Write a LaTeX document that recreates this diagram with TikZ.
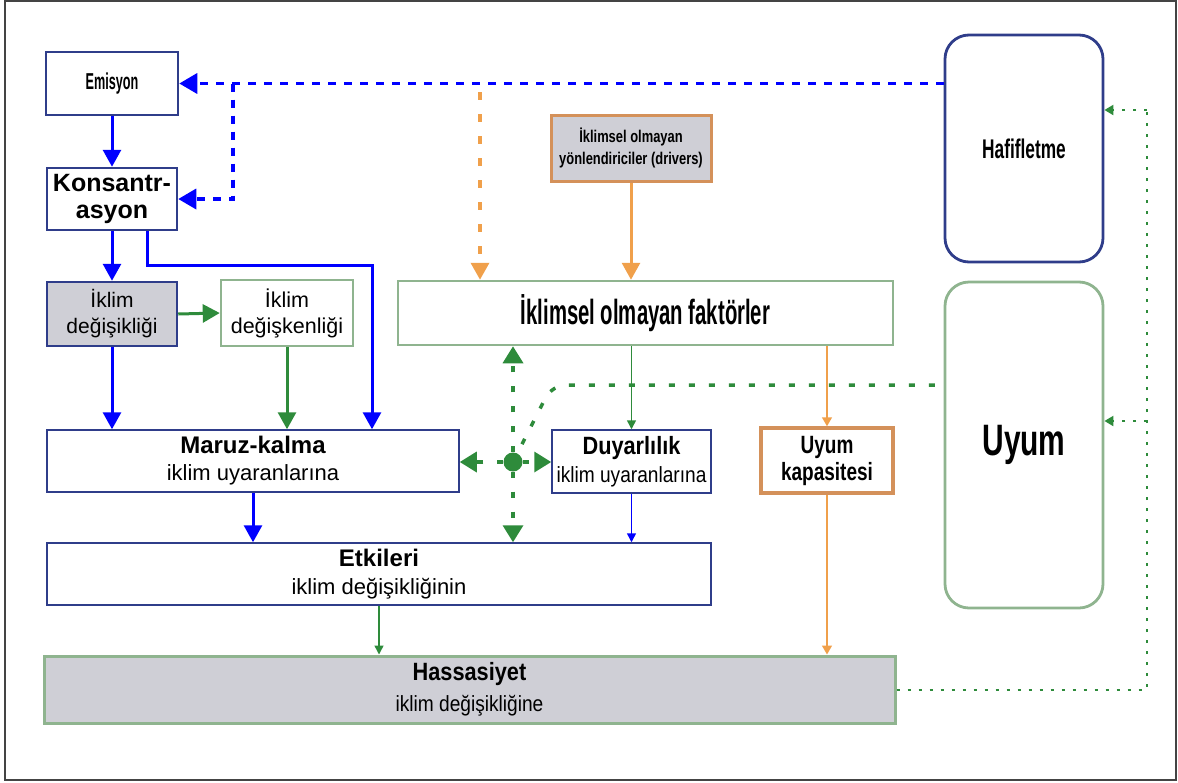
\documentclass[tikz,border=0pt]{standalone}
\usepackage{fontspec}
\setmainfont{Liberation Sans}
\newfontfamily\fA[FakeStretch=0.64]{Liberation Sans}
\newfontfamily\fB[FakeStretch=0.76]{Liberation Sans}
\newfontfamily\fC[FakeStretch=0.87]{Liberation Sans}
\newfontfamily\fD[FakeStretch=0.55]{Liberation Sans}
\newfontfamily\fE[FakeStretch=0.58]{Liberation Sans}
\newfontfamily\fF[FakeStretch=0.68]{Liberation Sans}
\usetikzlibrary{arrows.meta}
\newcommand\fsz[2]{\fontsize{#1}{#2}\selectfont}
\definecolor{navy}{HTML}{2F3D8A}
\definecolor{pblue}{HTML}{0000FF}
\definecolor{leaf}{HTML}{2E8B3B}
\definecolor{sage}{HTML}{8FB48F}
\definecolor{amber}{HTML}{F0A04B}
\definecolor{ochre}{HTML}{D4915A}
\definecolor{mist}{HTML}{CFCFD6}
\definecolor{framegray}{HTML}{444444}

\tikzset{
  bx/.style={draw, rectangle, inner sep=2pt, align=center, text=black},
  navybox/.style={bx, draw=navy, line width=2.5pt},
  thinbox/.style={bx, draw=navy, line width=1.5pt},
  sagebox/.style={bx, draw=sage, line width=2.5pt},
  ochrebox/.style={bx, draw=ochre, line width=3pt},
  roundbox/.style={bx, rounded corners=24pt, line width=2.8pt},
  bigblue/.style={draw=pblue, line width=3pt, -{Triangle[length=17pt,width=18pt]}},
  biggreen/.style={draw=leaf, line width=3pt, -{Triangle[length=17pt,width=18pt]}},
  bigorange/.style={draw=amber, line width=3pt, -{Triangle[length=17pt,width=18pt]}},
  thinblue/.style={draw=pblue, line width=1.5pt, -{Triangle[length=9pt,width=9pt]}},
  thingreen/.style={draw=leaf, line width=1.5pt, -{Triangle[length=9pt,width=9pt]}},
  thinorange/.style={draw=amber, line width=1.5pt, -{Triangle[length=9pt,width=10pt]}},
  bluedash/.style={draw=pblue, line width=3.5pt, dash pattern=on 8pt off 8pt, -{Triangle[length=18pt,width=20pt]}},
  greendash/.style={draw=leaf, line width=3.5pt, dash pattern=on 6pt off 14pt, -{Triangle[length=17pt,width=20pt]}},
  orangedash/.style={draw=amber, line width=3.5pt, dash pattern=on 8pt off 14pt, -{Triangle[length=17pt,width=18pt]}},
  greendot/.style={draw=leaf, line width=2pt, dash pattern=on 3pt off 8pt, -{Triangle[length=9pt,width=10pt]}}
}

\begin{document}
\begin{tikzpicture}[x=1pt,y=-1pt]
\useasboundingbox (0,0) rectangle (1178,782);
\draw[framegray, line width=1.5pt] (5,1) rectangle (1176,780);

% boxes
\node[navybox, minimum width=132pt, minimum height=63pt, font=\fD\bfseries\fsz{23}{26}] (emis) at (112,83.5) {Emisyon};
\node[navybox, minimum width=130pt, minimum height=62pt, font=\bfseries\fsz{25}{27}] (konz) at (112,199) {Konsantr-\\asyon};
\node[navybox, fill=mist, minimum width=130pt, minimum height=64pt, font=\fsz{21}{26}] (ikd) at (112,314) {İklim\\değişikliği};
\node[sagebox, fill=white, minimum width=132pt, minimum height=66pt, font=\fsz{21.5}{26}] (ikv) at (287,313) {İklim\\değişkenliği};
\node[thinbox, minimum width=412pt, minimum height=62pt, font=\fsz{22}{27}] (maruz) at (253,461) {{\bfseries\fsz{24}{27}Maruz-kalma}\\iklim uyaranlarına};
\node[thinbox, minimum width=159pt, minimum height=63pt, font=\fC\fsz{22}{28}] (duy) at (631.5,461.5) {{\bfseries\fsz{25}{28}Duyarlılık}\\iklim uyaranlarına};
\node[thinbox, minimum width=664pt, minimum height=62pt, font=\fsz{22}{28}] (etk) at (379,574) {{\bfseries\fsz{24}{28}Etkileri}\\iklim değişikliğinin};
\node[sagebox, line width=3pt, fill=mist, minimum width=851pt, minimum height=67pt, font=\fC\fsz{22}{31}] (hass) at (469.5,689.5) {{\bfseries\fsz{25}{31}Hassasiyet}\\iklim değişikliğine};
\node[sagebox, minimum width=495pt, minimum height=64pt, font=\fE\bfseries\fsz{35}{40}] (fakt) at (645.5,313) {İklimsel olmayan faktörler};
\node[ochrebox, fill=mist, minimum width=160pt, minimum height=66pt, font=\fB\bfseries\fsz{17}{22}] (drv) at (631,148) {İklimsel olmayan\\yönlendiriciler (drivers)};
\node[ochrebox, line width=3.5pt, minimum width=132pt, minimum height=65pt, font=\fB\bfseries\fsz{25}{27}] (kap) at (827,460.5) {Uyum\\kapasitesi};
\node[roundbox, draw=navy, minimum width=158pt, minimum height=227pt, font=\fA\bfseries\fsz{27}{30}] (hafif) at (1024,148.5) {Hafifletme};
\node[roundbox, draw=sage, minimum width=158pt, minimum height=326pt, font=\fF\bfseries\fsz{44}{48}] (uyum) at (1024,445) {Uyum};
\node[circle, fill=leaf, minimum size=19pt, inner sep=0pt] (dot) at (513,462) {};

% solid connectors
\draw[bigblue] (emis.south) -- (konz.north);
\draw[bigblue] (konz.south) -- (ikd.north);
\draw[bigblue] (ikd.south) -- (ikd.south |- maruz.north);
\draw[biggreen] (ikd.east) -- (ikv.west);
\draw[biggreen] (ikv.south) -- (ikv.south |- maruz.north);
\coordinate (kturn) at (372,265);
\draw[bigblue] ([xshift=35pt]konz.south) |- (kturn) -- (kturn |- maruz.north);
\draw[bigblue] (maruz.south) -- (maruz.south |- etk.north);
\draw[thinblue] (duy.south) -- (duy.south |- etk.north);
\draw[thingreen] (etk.south) -- (etk.south |- hass.north);
\draw[thingreen] (duy.north |- fakt.south) -- (duy.north);
\draw[bigorange] (drv.south) -- (drv.south |- fakt.north);
\draw[thinorange] (kap.north |- fakt.south) -- (kap.north);
\draw[thinorange] (kap.south) -- (kap.south |- hass.north);

% mitigation feedback (blue dashed)
\draw[bluedash] (hafif.west |- emis.east) -- (emis.east);
\coordinate (split) at (233,83.5);
\draw[bluedash] (split) |- (konz.east);

% orange dashed drop
\coordinate (odrop) at (480,92);
\draw[orangedash] (odrop) -- (odrop |- fakt.north);

% green dashed links around the hub
\draw[greendash] (dot) -- (dot |- fakt.south);
\draw[greendash] (dot) -- (dot |- etk.north);
\draw[greendash] (dot) -- (dot -| maruz.east);
\draw[greendash] (dot) -- (dot -| duy.west);
\coordinate (bend) at (552,385);
\draw[greendash, -, rounded corners=14pt] (dot.center) -- (bend) -- (bend -| uyum.west);

% green dotted return rail
\coordinate (railT) at (1147,110);
\coordinate (railM) at (1147,421);
\draw[greendot, -] (hass.east) -| (railT);
\draw[greendot] (railT) -- (railT -| hafif.east);
\draw[greendot] (railM) -- (railM -| uyum.east);
\end{tikzpicture}
\end{document}
